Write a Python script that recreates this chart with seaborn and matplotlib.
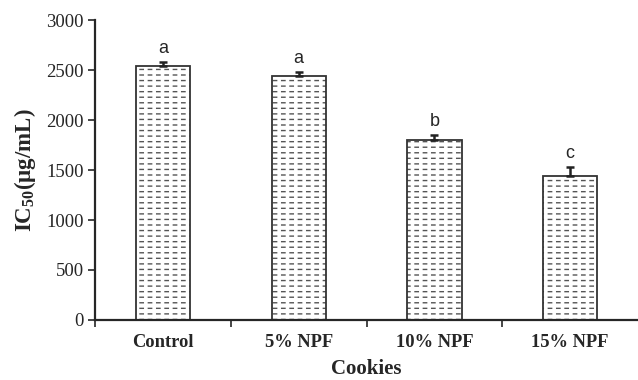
import matplotlib
matplotlib.use("Agg")
import matplotlib.pyplot as plt
import seaborn as sns
import pandas as pd
import numpy as np

categories = ["Control", "5% NPF", "10% NPF", "15% NPF"]
values = [2540, 2440, 1800, 1445]
errors = [45, 45, 50, 90]
letters = ["a", "a", "b", "c"]

sns.set_style("ticks")
plt.rcParams['font.family'] = ['Liberation Serif', 'DejaVu Serif']
plt.rcParams['mathtext.fontset'] = 'custom'
plt.rcParams['mathtext.rm'] = 'Liberation Serif'
plt.rcParams['mathtext.bf'] = 'Liberation Serif:bold'
plt.rcParams['hatch.linewidth'] = 1.0

df = pd.DataFrame({"Cookies": categories, "IC50": values})

fig = plt.figure(figsize=(6.38, 3.8), dpi=100)
ax = fig.add_axes([0.149, 0.158, 0.851, 0.789])

sns.barplot(data=df, x="Cookies", y="IC50", ax=ax, color="white",
            edgecolor="#555555", linewidth=0, width=0.4, errorbar=None,
            hatch="---")

x = np.arange(len(categories))
# white vertical hatch cuts the horizontal lines into dashes
plt.rcParams['hatch.linewidth'] = 2.6
gaps = ax.bar(x, values, width=0.4, fill=False, edgecolor="white",
              linewidth=0, hatch="||")
for p in gaps:
    if hasattr(p, "set_hatch_linewidth"):
        p.set_hatch_linewidth(2.6)
# outlines
ax.bar(x, values, width=0.4, fill=False, edgecolor="#333333", linewidth=1.3)

ax.errorbar(x, values, yerr=[np.zeros(len(errors)), errors], fmt="none",
            ecolor="#222222", elinewidth=1.8, capsize=2.6, capthick=1.8,
            zorder=5)

for xi, v, e, l in zip(x, values, errors, letters):
    ax.text(xi, v + e + 50, l, ha="center", va="bottom", fontsize=13,
            family=["Liberation Sans", "DejaVu Sans"])

ax.set_xlim(-0.5, 3.5)
ax.set_ylim(0, 3000)
ax.set_yticks(range(0, 3001, 500))
ax.set_xticks(x)
ax.set_xticklabels(categories, fontweight="bold", fontsize=13.3)
ax.tick_params(axis="x", which="major", length=0, pad=10)
ax.set_xticks([-0.5, 0.5, 1.5, 2.5], minor=True)
ax.tick_params(axis="x", which="minor", length=5, width=1.2, direction="out")
ax.tick_params(axis="y", length=5, width=1.2, labelsize=13.5, direction="out", pad=3)
for s in ["top", "right"]:
    ax.spines[s].set_visible(False)
for s in ["left", "bottom"]:
    ax.spines[s].set_linewidth(1.6)
ax.set_xlabel("Cookies", fontweight="bold", fontsize=15, labelpad=6)
ax.set_ylabel(r"IC$_{\mathbf{50}}$(μg/mL)", fontweight="bold", fontsize=16.5, labelpad=6)

fig.savefig("out.png", dpi=100)
